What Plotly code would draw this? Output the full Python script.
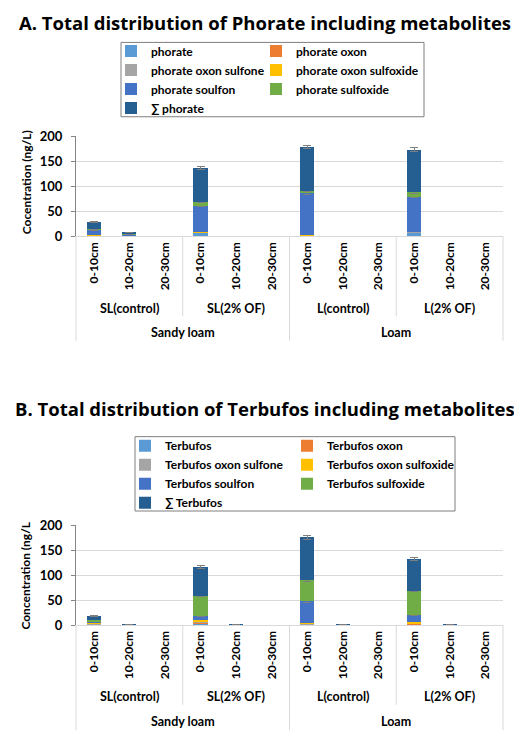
import plotly.graph_objects as go

# page is offset by the default 8px body margin; work in page pixels and convert
OFF = 8
FW, FH = 522 - OFF, 745 - OFF
ML = 76 - OFF
PR = 503 - OFF
MR = FW - PR
PW = PR - ML

def py(p):
    return 1 - (p - OFF) / FH

def pxx(p):
    return (p - OFF - ML) / PW

FONT = "Lato"
TITLE_FONT = "Open Sans"

# ---------------- data ----------------
depths = ["0-10cm", "10-20cm", "20-30cm"]
treatments = ["SL(control)", "SL(2% OF)", "L(control)", "L(2% OF)"]
soils = ["Sandy loam", "Loam"]
categories = [f"{t} {d}" for t in treatments for d in depths]
tick_text = [d for t in treatments for d in depths]

colors = ["#5B9BD5", "#ED7D31", "#A5A5A5", "#FFC000", "#4472C4", "#70AD47", "#255E91"]

phorate_names = ["phorate", "phorate oxon", "phorate oxon sulfone", "phorate oxon sulfoxide",
                 "phorate soulfon", "phorate sulfoxide", "∑ phorate"]
phorate = [1, 0.5, 0, 7, 0, 0, 1, 0, 0, 8, 0, 0]
phorate_oxon = [0.5, 0, 0, 0.5, 0, 0, 0.5, 0, 0, 0.5, 0, 0]
phorate_oxon_sulfone = [0.3, 0, 0, 0.3, 0, 0, 0.3, 0, 0, 0.3, 0, 0]
phorate_oxon_sulfoxide = [0.7, 0.3, 0, 0.5, 0, 0, 0.5, 0, 0, 0.5, 0, 0]
phorate_soulfon = [11, 3, 0, 53, 0, 0, 84, 0, 0, 70, 0, 0]
phorate_sulfoxide = [1, 0.2, 0, 8, 0, 0, 5, 0, 0, 9, 0, 0]
phorate_sum = [13.5, 4, 0, 67, 0, 0, 87, 0, 0, 84, 0, 0]
phorate_soulfon_err = [1, 0.5, None, 2, None, None, 2, None, None, 2, None, None]
phorate_sulfoxide_err = [0.5, None, None, 2, None, None, 1, None, None, 2, None, None]
phorate_sum_err = [1, 0.5, None, 3, None, None, 3, None, None, 4, None, None]

terbufos_names = ["Terbufos", "Terbufos oxon", "Terbufos oxon sulfone", "Terbufos oxon sulfoxide",
                  "Terbufos soulfon", "Terbufos sulfoxide", "∑ Terbufos"]
terbufos = [1, 0, 0, 4, 0, 0, 1, 0, 0, 2, 0, 0]
terbufos_oxon = [1, 0, 0, 1, 0, 0, 1, 0, 0, 1, 0, 0]
terbufos_oxon_sulfone = [2, 0.3, 0, 1, 0.3, 0, 1, 0.3, 0, 1, 0.3, 0]
terbufos_oxon_sulfoxide = [2, 0.8, 0, 4, 0.8, 0, 2, 0.8, 0, 3, 0.8, 0]
terbufos_soulfon = [2, 0, 0, 8, 0, 0, 43, 0, 0, 14, 0, 0]
terbufos_sulfoxide = [3, 0, 0, 41, 0, 0, 42, 0, 0, 47, 0, 0]
terbufos_sum = [8, 0.9, 0, 57, 0.9, 0, 86, 0.9, 0, 64, 0.9, 0]
terbufos_soulfon_err = [0.5, None, None, 1, None, None, 2, None, None, 1, None, None]
terbufos_sulfoxide_err = [0.5, None, None, 1, None, None, 2, None, None, 1, None, None]
terbufos_sum_err = [1, 0.3, None, 3, 0.3, None, 4, 0.3, None, 3, 0.3, None]

sets = [
    dict(names=phorate_names,
         values=[phorate, phorate_oxon, phorate_oxon_sulfone, phorate_oxon_sulfoxide,
                 phorate_soulfon, phorate_sulfoxide, phorate_sum],
         errs=[None, None, None, None, phorate_soulfon_err, phorate_sulfoxide_err, phorate_sum_err],
         xaxis="x", yaxis="y", legends=("legend", "legend2")),
    dict(names=terbufos_names,
         values=[terbufos, terbufos_oxon, terbufos_oxon_sulfone, terbufos_oxon_sulfoxide,
                 terbufos_soulfon, terbufos_sulfoxide, terbufos_sum],
         errs=[None, None, None, None, terbufos_soulfon_err, terbufos_sulfoxide_err, terbufos_sum_err],
         xaxis="x2", yaxis="y2", legends=("legend3", "legend4")),
]

fig = go.Figure()
for s in sets:
    for j, (name, vals, err, col) in enumerate(zip(s["names"], s["values"], s["errs"], colors)):
        kw = {}
        if err is not None:
            kw["error_y"] = dict(type="data", array=err, visible=True, color="#7F7F7F",
                                 thickness=1, width=4)
        fig.add_trace(go.Bar(x=categories, y=vals, name=name, marker_color=col,
                             marker_line_width=0, xaxis=s["xaxis"], yaxis=s["yaxis"],
                             legend=s["legends"][j % 2], **kw))

# page-pixel geometry of the two panels
panels = [
    dict(top=130.7, bottom=233.3, title="A. Total distribution of Phorate including metabolites",
         title_y=14.5, ytitle="Cocentration (ng/L)", ytitle_y=178,
         treat_y=307, soil_y=332, inner_end=315, outer_end=340,
         col_text=(151, 296), rows_top=29, box=(121, 424, 35, 111)),
    dict(top=528.3, bottom=630.7, title="B. Total distribution of Terbufos including metabolites",
         title_y=409, ytitle="Concentration (ng/L", ytitle_y=580,
         treat_y=704, soil_y=729, inner_end=712, outer_end=738,
         col_text=(165, 327), rows_top=432.5, box=(135, 455, 438, 514)),
]

layout = dict(
    width=FW, height=FH, barmode="stack", bargap=0.6,
    margin=dict(l=ML, r=MR, t=0, b=0),
    plot_bgcolor="white", paper_bgcolor="white",
    font=dict(family=FONT, color="#000000", weight="bold"),
    annotations=[], shapes=[],
)

legend_names = [("legend", "legend2"), ("legend3", "legend4")]

for i, p in enumerate(panels):
    sfx = "" if i == 0 else "2"
    layout["xaxis" + sfx] = dict(
        domain=[0, 1], anchor="y" + sfx, type="category",
        categoryorder="array", categoryarray=categories,
        tickmode="array", tickvals=categories, ticktext=tick_text,
        tickangle=-90, tickfont=dict(size=12, family=FONT, weight="bold", color="#000"),
        showline=True, linecolor="#D9D9D9", linewidth=1, ticks="", showgrid=False,
        zeroline=False,
    )
    layout["yaxis" + sfx] = dict(
        domain=[py(p["bottom"]), py(p["top"])], anchor="x" + sfx,
        range=[0, 200], dtick=50, tick0=0,
        gridcolor="#D9D9D9", gridwidth=1, zeroline=False,
        showline=True, linecolor="#868686", linewidth=1,
        ticks="outside", ticklen=4, tickcolor="#868686",
        tickfont=dict(size=13, family=FONT, weight="bold", color="#000"),
        ticklabelstandoff=6,
    )
    for c, lname in enumerate(legend_names[i]):
        layout[lname] = dict(
            x=pxx(p["col_text"][c] - 40), y=py(p["rows_top"]), xanchor="left", yanchor="top",
            orientation="v", borderwidth=0, bgcolor="rgba(0,0,0,0)",
            font=dict(size=12, family=FONT, weight="bold", color="#000"),
            itemwidth=30, traceorder="normal", tracegroupgap=0,
        )
    bx0, bx1, by0, by1 = p["box"]
    layout["shapes"].append(dict(type="rect", xref="paper", yref="paper", layer="below",
                                 x0=pxx(bx0), x1=pxx(bx1), y0=py(by1), y1=py(by0),
                                 line=dict(color="#7F7F7F", width=1), fillcolor="white"))

    layout["annotations"].append(dict(
        text=p["title"], x=0.5, xref="paper", xanchor="center",
        xshift=((FW) / 2 - (ML + PW / 2)),
        y=py(p["title_y"]), yref="paper", yanchor="middle", showarrow=False,
        font=dict(size=18.5, family=TITLE_FONT, weight="bold", color="#000")))
    layout["annotations"].append(dict(
        text=p["ytitle"], textangle=-90, x=pxx(26), xref="paper", xanchor="center",
        y=py(p["ytitle_y"]), yref="paper", yanchor="middle", showarrow=False,
        font=dict(size=12, family=FONT, weight="bold", color="#000")))
    for k, t in enumerate(treatments):
        layout["annotations"].append(dict(
            text=t, x=(3 * k + 1.5) / 12, xref="paper", xanchor="center",
            y=py(p["treat_y"]), yref="paper", yanchor="middle", showarrow=False,
            font=dict(size=12.5, family=FONT, weight="bold", color="#000")))
    for k, s_ in enumerate(soils):
        layout["annotations"].append(dict(
            text=s_, x=(6 * k + 3) / 12, xref="paper", xanchor="center",
            y=py(p["soil_y"]), yref="paper", yanchor="middle", showarrow=False,
            font=dict(size=12.5, family=FONT, weight="bold", color="#000")))
    for b in [3, 9]:
        layout["shapes"].append(dict(type="line", xref="paper", yref="paper",
                                     x0=b / 12, x1=b / 12, y0=py(p["bottom"]), y1=py(p["inner_end"]),
                                     line=dict(color="#D9D9D9", width=1)))
    for b in [0, 6, 12]:
        layout["shapes"].append(dict(type="line", xref="paper", yref="paper",
                                     x0=b / 12, x1=b / 12, y0=py(p["bottom"]), y1=py(p["outer_end"]),
                                     line=dict(color="#D9D9D9", width=1)))

fig.update_layout(**layout)
fig.write_html("out.html")
